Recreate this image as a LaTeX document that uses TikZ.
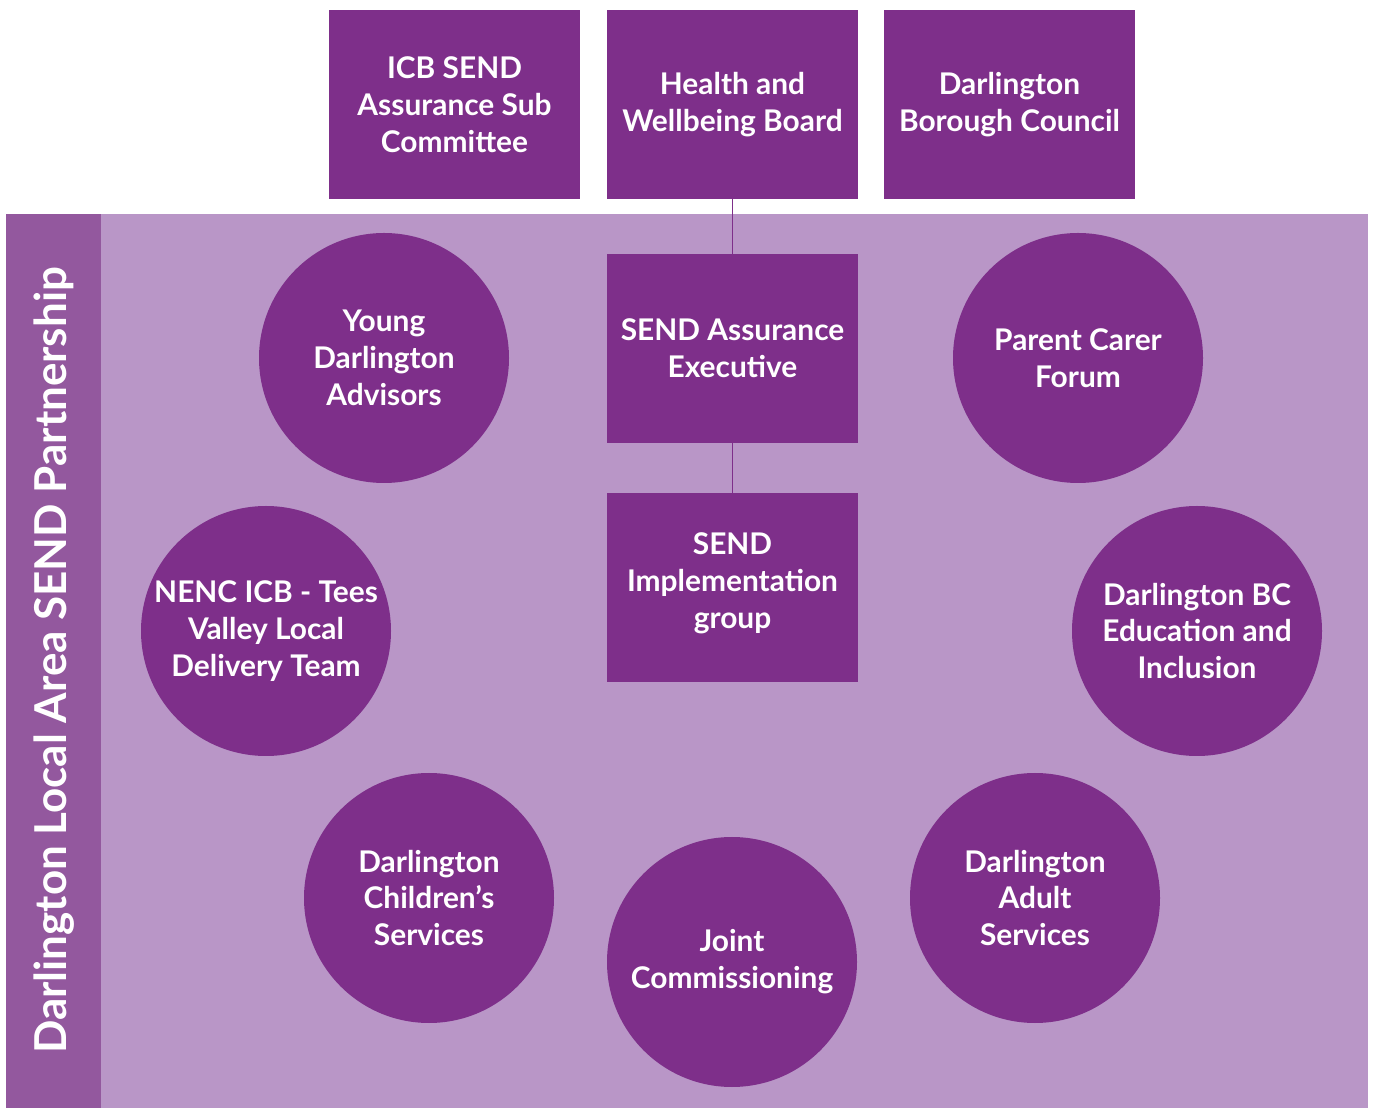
\documentclass[tikz,border=0pt]{standalone}
\usepackage{fontspec}
\setmainfont{Lato}[UprightFont=* Bold]
\definecolor{sendpurple}{HTML}{7E2F8A}
\definecolor{sendlilac}{HTML}{B996C7}
\definecolor{sendband}{HTML}{93589E}
\begin{document}
\begin{tikzpicture}[
  board/.style={fill=sendpurple, text=white, minimum width=5.02cm, minimum height=3.78cm, align=center, inner sep=0pt, font=\fontsize{17}{21}\selectfont},
  partner/.style={circle, fill=sendpurple, text=white, minimum size=5cm, align=center, inner sep=0pt, font=\fontsize{17}{21}\selectfont},
  link/.style={draw=sendpurple, line width=0.6pt}]
  \useasboundingbox (0,0) rectangle (27.5,22.16);
  % partnership area
  \fill[sendlilac] (0.12,0) rectangle (27.36,17.88);
  \fill[sendband] (0.12,0) rectangle (2.02,17.88);
  \node[rotate=90, text=white, font=\fontsize{25}{30}\selectfont] (title) at (1.08,8.95) {Darlington Local Area SEND Partnership};
  % governance
  \node[board] (icb) at (9.09,20.07)  {ICB SEND\\Assurance Sub\\Committee};
  \node[board] (hwb) at (14.65,20.07) {Health and\\Wellbeing Board};
  \node[board] (dbc) at (20.19,20.07) {Darlington\\Borough Council};
  \node[board] (exec) at (14.65,15.19) {SEND Assurance\\Executive};
  \node[board] (impl) at (14.65,10.40) {SEND\\Implementation\\group\\[-13pt]};
  % partners
  \node[partner] (young) at (7.68,15.0)   {Young\\Darlington\\Advisors};
  \node[partner] (pcf) at (21.56,15.0)    {Parent Carer\\Forum};
  \node[partner] (nenc) at (5.32,9.54)    {NENC ICB - Tees\\Valley Local\\Delivery Team};
  \node[partner] (edu) at (23.94,9.54)    {Darlington BC\\Education and\\Inclusion};
  \node[partner] (child) at (8.58,4.2)    {Darlington\\Children’s\\Services};
  \node[partner] (adult) at (20.70,4.2)   {Darlington\\Adult\\Services};
  \node[partner] (joint) at (14.64,2.92)  {Joint\\Commissioning};
  \draw[link] (hwb) -- (exec) -- (impl);
\end{tikzpicture}
\end{document}
